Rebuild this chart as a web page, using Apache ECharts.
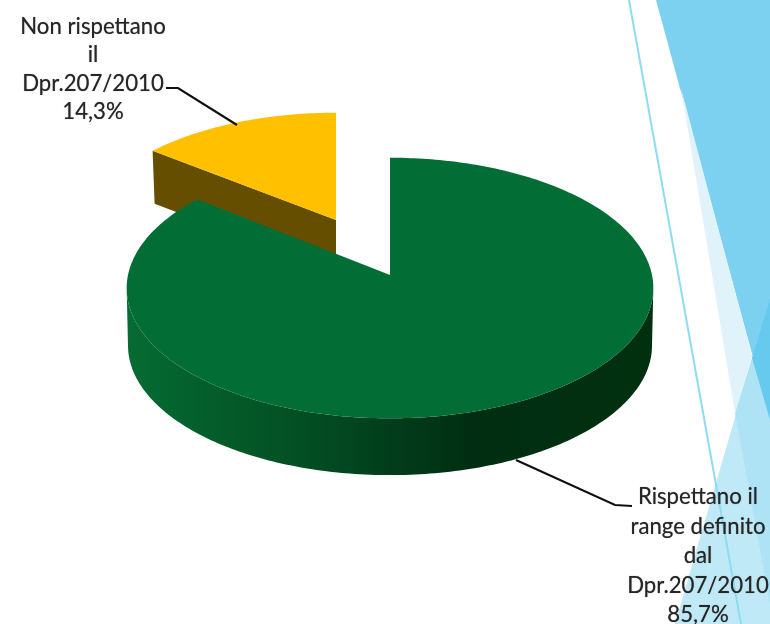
<!DOCTYPE html>
<html>
<head>
<meta charset="utf-8">
<title>Dpr.207/2010</title>
<script src="https://cdn.jsdelivr.net/npm/echarts@6/dist/echarts.min.js"></script>
<style>
  html, body { margin: 0; padding: 0; background: #fff; }
  #chart { width: 770px; height: 624px; }
</style>
</head>
<body>
<div id="chart"></div>
<script>
// chart data
var categories = ['Non rispettano\nil\nDpr.207/2010', 'Rispettano il\nrange definito\ndal\nDpr.207/2010'];
var values = [14.3, 85.7];

// layout of each slice (exploded pie, so each has its own centre)
var sliceGeo = [
  { cx: 336, cy: 220, rx: 249, ry: 118, depth: 53 },
  { cx: 390, cy: 275, rx: 262, ry: 129, depth: 57.5 }
];
var labelPos = [
  { x: 93, y: 69.5, lineHeight: 28.5, leader: [[166, 88], [178, 88], [237, 125]] },
  { x: 698, y: 556, lineHeight: 29.5, leader: [[632, 506], [615, 505], [516, 460]] }
];
var persp = 0.1;

var chart = echarts.init(document.getElementById('chart'), null, { renderer: 'canvas' });

var total = values.reduce(function (a, b) { return a + b; }, 0);
var startPct = -values[0]; // first slice ends at 12 o'clock

// point on the disc rim, angle in degrees clockwise from 12 o'clock
function project(geo, deg, r, dy, scale) {
  var a = deg * Math.PI / 180;
  var u = Math.sin(a) * r, v = Math.cos(a) * r;
  var d = 1 + persp * v;
  return [geo.cx + geo.rx * scale * u / d, geo.cy + dy - geo.ry * scale * v / d];
}

function renderSlice(params, api) {
  var i = params.dataIndex;
  var geo = sliceGeo[i];
  var before = 0;
  for (var k = 0; k < i; k++) before += values[k];
  var a0 = (startPct + before) / total * 360;
  var a1 = a0 + api.value(0) / total * 360;

  var rim = [];
  for (var d = a0; d < a1; d += 1) rim.push(project(geo, d, 1, 0, 1));
  rim.push(project(geo, a1, 1, 0, 1));
  var apex = [geo.cx, geo.cy];
  var children = [];

  if (i === 0) {
    // cut face on the left edge of the small slice
    var p = project(geo, a0, 1, 0, 1);
    children.push({
      type: 'polygon',
      shape: { points: [p, apex, [apex[0], apex[1] + geo.depth], [p[0] + 2, p[1] + geo.depth]] },
      style: { fill: '#664e00' }
    });
  } else {
    // outer wall, only from widest point round the front
    var top = [], bottom = [];
    for (var t = a0; t <= a1; t += 1) {
      if (Math.cos(t * Math.PI / 180) < -persp) {
        top.push(project(geo, t, 1, 0, 1));
        bottom.unshift(project(geo, t, 1, geo.depth, 0.995));
      }
    }
    children.push({
      type: 'polygon',
      shape: { points: top.concat(bottom) },
      style: {
        fill: new echarts.graphic.LinearGradient(0, 0, 1, 0, [
          { offset: 0, color: '#056c33' },
          { offset: 0.15, color: '#045e2b' },
          { offset: 0.38, color: '#034a22' },
          { offset: 0.65, color: '#012e12' },
          { offset: 1, color: '#01300f' }
        ])
      }
    });
  }

  children.push({
    type: 'polygon',
    shape: { points: rim.concat([apex]) },
    style: { fill: i === 0 ? '#ffc000' : '#026e35' }
  });

  // leader line and label
  var lab = labelPos[i];
  children.push({
    type: 'polyline',
    shape: { points: lab.leader },
    style: { stroke: '#111', lineWidth: 2.2, fill: null }
  });
  var pct = api.value(0).toFixed(1).replace('.', ',') + '%';
  children.push({
    type: 'text',
    x: lab.x,
    y: lab.y,
    style: {
      text: categories[i] + '\n' + pct,
      fill: '#262626',
      font: '22.2px Lato',
      lineHeight: lab.lineHeight,
      align: 'center',
      verticalAlign: 'middle',
      textShadowColor: 'rgba(38,38,38,0.6)',
      textShadowBlur: 1
    }
  });
  return { type: 'group', children: children };
}

function facet(points, color, z) {
  return { type: 'polygon', z: z, silent: true, shape: { points: points }, style: { fill: color } };
}

chart.setOption({
  animation: false,
  backgroundColor: '#ffffff',
  graphic: [
    facet([[656, 0], [770, 0], [770, 420]], '#7dd1f0', 1),
    facet([[681, 88], [735, 413], [752, 356]], '#e0f3fb', 1),
    facet([[770, 297], [675, 624], [770, 624]], '#c0e9f7', 1),
    facet([[752, 358], [770, 420], [770, 604], [735, 413]], '#aee3f6', 2),
    facet([[752, 358], [770, 297], [770, 420]], '#66c9ee', 2),
    {
      type: 'line', z: 3, silent: true,
      shape: { x1: 629, y1: 0, x2: 741, y2: 624 },
      style: { stroke: '#8ddcf5', lineWidth: 2 }
    }
  ],
  series: [{
    type: 'custom',
    coordinateSystem: 'none',
    z: 5,
    renderItem: renderSlice,
    data: values.map(function (v, i) { return { name: categories[i], value: [v] }; })
  }]
});
</script>
</body>
</html>
